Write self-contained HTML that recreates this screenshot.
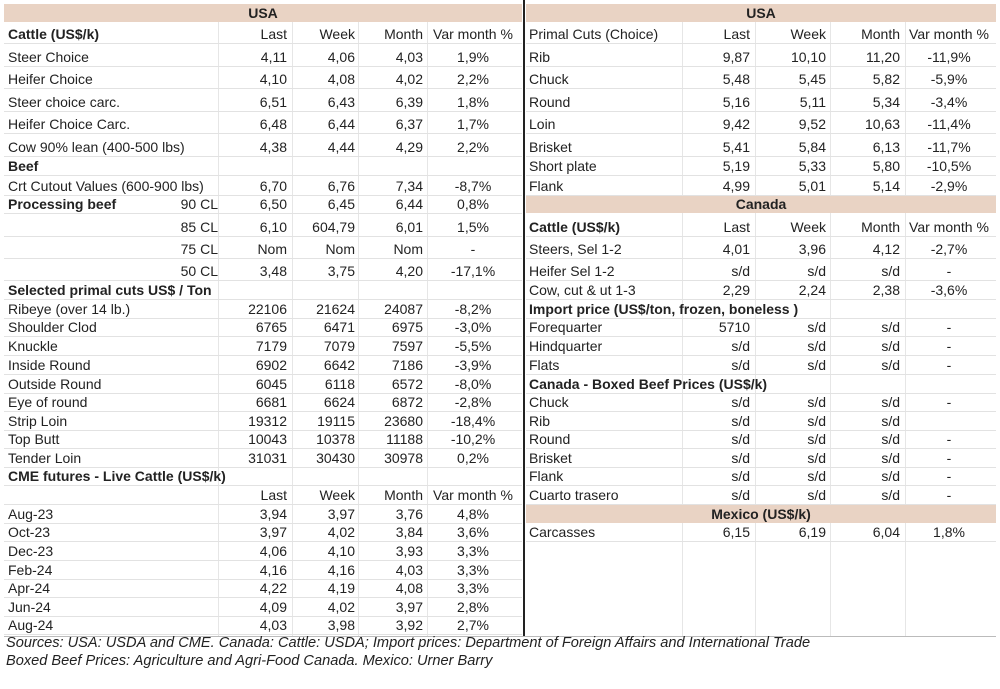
<!DOCTYPE html>
<html><head><meta charset="utf-8"><style>
body{margin:0;width:1000px;height:689px;background:#fff;position:relative;overflow:hidden;font-family:"Liberation Sans",Arial,sans-serif;font-size:14px;color:#222}
.row{position:absolute;height:18px;line-height:18px;border-bottom:1px solid #e2e2e2}
.L{left:4px;width:518px}.R{left:526px;width:470px}
.row span{position:absolute;top:0;white-space:nowrap}
.b{font-weight:bold}
.l0{left:4px}.l1{left:216px;width:67px;text-align:right}.l2{left:288px;width:63px;text-align:right}.l3{left:356px;width:63px;text-align:right}.l4{left:423px;width:92px;text-align:center}
.r0{left:3px}.r1{left:157px;width:67px;text-align:right}.r2{left:231px;width:69px;text-align:right}.r3{left:305px;width:69px;text-align:right}.r4{left:379px;width:88px;text-align:center}
.band{position:absolute;height:18px;line-height:18px;background:#e9d3c4;text-align:center;font-weight:bold}
.vl{position:absolute;width:1px;background:#e6e6e6}
.src{position:absolute;left:6px;font-style:italic;font-size:14.6px}
</style></head><body>
<div class="vl" style="left:218px;top:22px;height:614px"></div>
<div class="vl" style="left:292px;top:22px;height:614px"></div>
<div class="vl" style="left:358px;top:22px;height:614px"></div>
<div class="vl" style="left:427px;top:22px;height:614px"></div>
<div class="vl" style="left:682px;top:22px;height:614px"></div>
<div class="vl" style="left:755px;top:22px;height:614px"></div>
<div class="vl" style="left:830px;top:22px;height:614px"></div>
<div class="vl" style="left:905px;top:22px;height:614px"></div>
<div style="position:absolute;left:523px;top:0;width:2px;height:636px;background:#222"></div>

<div class="band" style="left:4px;top:4px;width:518px">USA</div>
<div class="band" style="left:526px;top:4px;width:470px">USA</div>
<div class="band" style="left:526px;top:195px;width:470px">Canada</div>
<div class="band" style="left:526px;top:505px;width:470px">Mexico (US$/k)</div>

<!-- LEFT -->
<div class="row L" style="top:25px"><span class="l0 b">Cattle (US$/k)</span><span class="l1">Last</span><span class="l2">Week</span><span class="l3">Month</span><span class="l4">Var month %</span></div>
<div class="row L" style="top:48px"><span class="l0">Steer Choice</span><span class="l1">4,11</span><span class="l2">4,06</span><span class="l3">4,03</span><span class="l4">1,9%</span></div>
<div class="row L" style="top:70px"><span class="l0">Heifer Choice</span><span class="l1">4,10</span><span class="l2">4,08</span><span class="l3">4,02</span><span class="l4">2,2%</span></div>
<div class="row L" style="top:93px"><span class="l0">Steer choice carc.</span><span class="l1">6,51</span><span class="l2">6,43</span><span class="l3">6,39</span><span class="l4">1,8%</span></div>
<div class="row L" style="top:115px"><span class="l0">Heifer Choice Carc.</span><span class="l1">6,48</span><span class="l2">6,44</span><span class="l3">6,37</span><span class="l4">1,7%</span></div>
<div class="row L" style="top:138px"><span class="l0">Cow 90% lean (400-500 lbs)</span><span class="l1">4,38</span><span class="l2">4,44</span><span class="l3">4,29</span><span class="l4">2,2%</span></div>
<div class="row L" style="top:157px"><span class="l0 b">Beef</span></div>
<div class="row L" style="top:177px"><span class="l0">Crt Cutout Values (600-900 lbs)</span><span class="l1">6,70</span><span class="l2">6,76</span><span class="l3">7,34</span><span class="l4">-8,7%</span></div>
<div class="row L" style="top:195px"><span class="l0 b">Processing beef</span><span style="left:150px;width:64px;text-align:right">90 CL</span><span class="l1">6,50</span><span class="l2">6,45</span><span class="l3">6,44</span><span class="l4">0,8%</span></div>
<div class="row L" style="top:218px"><span style="left:150px;width:64px;text-align:right">85 CL</span><span class="l1">6,10</span><span class="l2">604,79</span><span class="l3">6,01</span><span class="l4">1,5%</span></div>
<div class="row L" style="top:240px"><span style="left:150px;width:64px;text-align:right">75 CL</span><span class="l1">Nom</span><span class="l2">Nom</span><span class="l3">Nom</span><span class="l4">-</span></div>
<div class="row L" style="top:262px"><span style="left:150px;width:64px;text-align:right">50 CL</span><span class="l1">3,48</span><span class="l2">3,75</span><span class="l3">4,20</span><span class="l4">-17,1%</span></div>
<div class="row L" style="top:281px"><span class="l0 b">Selected primal cuts US$ / Ton</span></div>
<div class="row L" style="top:300px"><span class="l0">Ribeye (over 14 lb.)</span><span class="l1">22106</span><span class="l2">21624</span><span class="l3">24087</span><span class="l4">-8,2%</span></div>
<div class="row L" style="top:318px"><span class="l0">Shoulder Clod</span><span class="l1">6765</span><span class="l2">6471</span><span class="l3">6975</span><span class="l4">-3,0%</span></div>
<div class="row L" style="top:337px"><span class="l0">Knuckle</span><span class="l1">7179</span><span class="l2">7079</span><span class="l3">7597</span><span class="l4">-5,5%</span></div>
<div class="row L" style="top:356px"><span class="l0">Inside Round</span><span class="l1">6902</span><span class="l2">6642</span><span class="l3">7186</span><span class="l4">-3,9%</span></div>
<div class="row L" style="top:375px"><span class="l0">Outside Round</span><span class="l1">6045</span><span class="l2">6118</span><span class="l3">6572</span><span class="l4">-8,0%</span></div>
<div class="row L" style="top:393px"><span class="l0">Eye of round</span><span class="l1">6681</span><span class="l2">6624</span><span class="l3">6872</span><span class="l4">-2,8%</span></div>
<div class="row L" style="top:412px"><span class="l0">Strip Loin</span><span class="l1">19312</span><span class="l2">19115</span><span class="l3">23680</span><span class="l4">-18,4%</span></div>
<div class="row L" style="top:430px"><span class="l0">Top Butt</span><span class="l1">10043</span><span class="l2">10378</span><span class="l3">11188</span><span class="l4">-10,2%</span></div>
<div class="row L" style="top:449px"><span class="l0">Tender Loin</span><span class="l1">31031</span><span class="l2">30430</span><span class="l3">30978</span><span class="l4">0,2%</span></div>
<div class="row L" style="top:467px"><span class="l0 b">CME futures - Live Cattle (US$/k)</span></div>
<div class="row L" style="top:486px"><span class="l1">Last</span><span class="l2">Week</span><span class="l3">Month</span><span class="l4">Var month %</span></div>
<div class="row L" style="top:505px"><span class="l0">Aug-23</span><span class="l1">3,94</span><span class="l2">3,97</span><span class="l3">3,76</span><span class="l4">4,8%</span></div>
<div class="row L" style="top:523px"><span class="l0">Oct-23</span><span class="l1">3,97</span><span class="l2">4,02</span><span class="l3">3,84</span><span class="l4">3,6%</span></div>
<div class="row L" style="top:542px"><span class="l0">Dec-23</span><span class="l1">4,06</span><span class="l2">4,10</span><span class="l3">3,93</span><span class="l4">3,3%</span></div>
<div class="row L" style="top:561px"><span class="l0">Feb-24</span><span class="l1">4,16</span><span class="l2">4,16</span><span class="l3">4,03</span><span class="l4">3,3%</span></div>
<div class="row L" style="top:579px"><span class="l0">Apr-24</span><span class="l1">4,22</span><span class="l2">4,19</span><span class="l3">4,08</span><span class="l4">3,3%</span></div>
<div class="row L" style="top:598px"><span class="l0">Jun-24</span><span class="l1">4,09</span><span class="l2">4,02</span><span class="l3">3,97</span><span class="l4">2,8%</span></div>
<div class="row L" style="top:616px"><span class="l0">Aug-24</span><span class="l1">4,03</span><span class="l2">3,98</span><span class="l3">3,92</span><span class="l4">2,7%</span></div>

<!-- RIGHT -->
<div class="row R" style="top:25px"><span class="r0">Primal Cuts (Choice)</span><span class="r1">Last</span><span class="r2">Week</span><span class="r3">Month</span><span class="r4">Var month %</span></div>
<div class="row R" style="top:48px"><span class="r0">Rib</span><span class="r1">9,87</span><span class="r2">10,10</span><span class="r3">11,20</span><span class="r4">-11,9%</span></div>
<div class="row R" style="top:70px"><span class="r0">Chuck</span><span class="r1">5,48</span><span class="r2">5,45</span><span class="r3">5,82</span><span class="r4">-5,9%</span></div>
<div class="row R" style="top:93px"><span class="r0">Round</span><span class="r1">5,16</span><span class="r2">5,11</span><span class="r3">5,34</span><span class="r4">-3,4%</span></div>
<div class="row R" style="top:115px"><span class="r0">Loin</span><span class="r1">9,42</span><span class="r2">9,52</span><span class="r3">10,63</span><span class="r4">-11,4%</span></div>
<div class="row R" style="top:138px"><span class="r0">Brisket</span><span class="r1">5,41</span><span class="r2">5,84</span><span class="r3">6,13</span><span class="r4">-11,7%</span></div>
<div class="row R" style="top:157px"><span class="r0">Short plate</span><span class="r1">5,19</span><span class="r2">5,33</span><span class="r3">5,80</span><span class="r4">-10,5%</span></div>
<div class="row R" style="top:177px"><span class="r0">Flank</span><span class="r1">4,99</span><span class="r2">5,01</span><span class="r3">5,14</span><span class="r4">-2,9%</span></div>
<div class="row R" style="top:218px"><span class="r0 b">Cattle (US$/k)</span><span class="r1">Last</span><span class="r2">Week</span><span class="r3">Month</span><span class="r4">Var month %</span></div>
<div class="row R" style="top:240px"><span class="r0">Steers, Sel 1-2</span><span class="r1">4,01</span><span class="r2">3,96</span><span class="r3">4,12</span><span class="r4">-2,7%</span></div>
<div class="row R" style="top:262px"><span class="r0">Heifer Sel 1-2</span><span class="r1">s/d</span><span class="r2">s/d</span><span class="r3">s/d</span><span class="r4">-</span></div>
<div class="row R" style="top:281px"><span class="r0">Cow, cut &amp; ut 1-3</span><span class="r1">2,29</span><span class="r2">2,24</span><span class="r3">2,38</span><span class="r4">-3,6%</span></div>
<div class="row R" style="top:300px"><span class="r0 b">Import price (US$/ton, frozen, boneless )</span></div>
<div class="row R" style="top:318px"><span class="r0">Forequarter</span><span class="r1">5710</span><span class="r2">s/d</span><span class="r3">s/d</span><span class="r4">-</span></div>
<div class="row R" style="top:337px"><span class="r0">Hindquarter</span><span class="r1">s/d</span><span class="r2">s/d</span><span class="r3">s/d</span><span class="r4">-</span></div>
<div class="row R" style="top:356px"><span class="r0">Flats</span><span class="r1">s/d</span><span class="r2">s/d</span><span class="r3">s/d</span><span class="r4">-</span></div>
<div class="row R" style="top:375px"><span class="r0 b">Canada - Boxed Beef Prices (US$/k)</span></div>
<div class="row R" style="top:393px"><span class="r0">Chuck</span><span class="r1">s/d</span><span class="r2">s/d</span><span class="r3">s/d</span><span class="r4">-</span></div>
<div class="row R" style="top:412px"><span class="r0">Rib</span><span class="r1">s/d</span><span class="r2">s/d</span><span class="r3">s/d</span></div>
<div class="row R" style="top:430px"><span class="r0">Round</span><span class="r1">s/d</span><span class="r2">s/d</span><span class="r3">s/d</span><span class="r4">-</span></div>
<div class="row R" style="top:449px"><span class="r0">Brisket</span><span class="r1">s/d</span><span class="r2">s/d</span><span class="r3">s/d</span><span class="r4">-</span></div>
<div class="row R" style="top:467px"><span class="r0">Flank</span><span class="r1">s/d</span><span class="r2">s/d</span><span class="r3">s/d</span><span class="r4">-</span></div>
<div class="row R" style="top:486px"><span class="r0">Cuarto trasero</span><span class="r1">s/d</span><span class="r2">s/d</span><span class="r3">s/d</span><span class="r4">-</span></div>
<div class="row R" style="top:523px"><span class="r0">Carcasses</span><span class="r1">6,15</span><span class="r2">6,19</span><span class="r3">6,04</span><span class="r4">1,8%</span></div>

<div style="position:absolute;left:4px;top:636px;width:992px;height:1px;background:#bbb"></div>
<div class="src" style="top:635px">Sources: USA: USDA and CME. Canada: Cattle: USDA; Import prices: Department of Foreign Affairs and International Trade</div>
<div class="src" style="top:653px">Boxed Beef Prices: Agriculture and Agri-Food Canada. Mexico: Urner Barry</div>
</body></html>
